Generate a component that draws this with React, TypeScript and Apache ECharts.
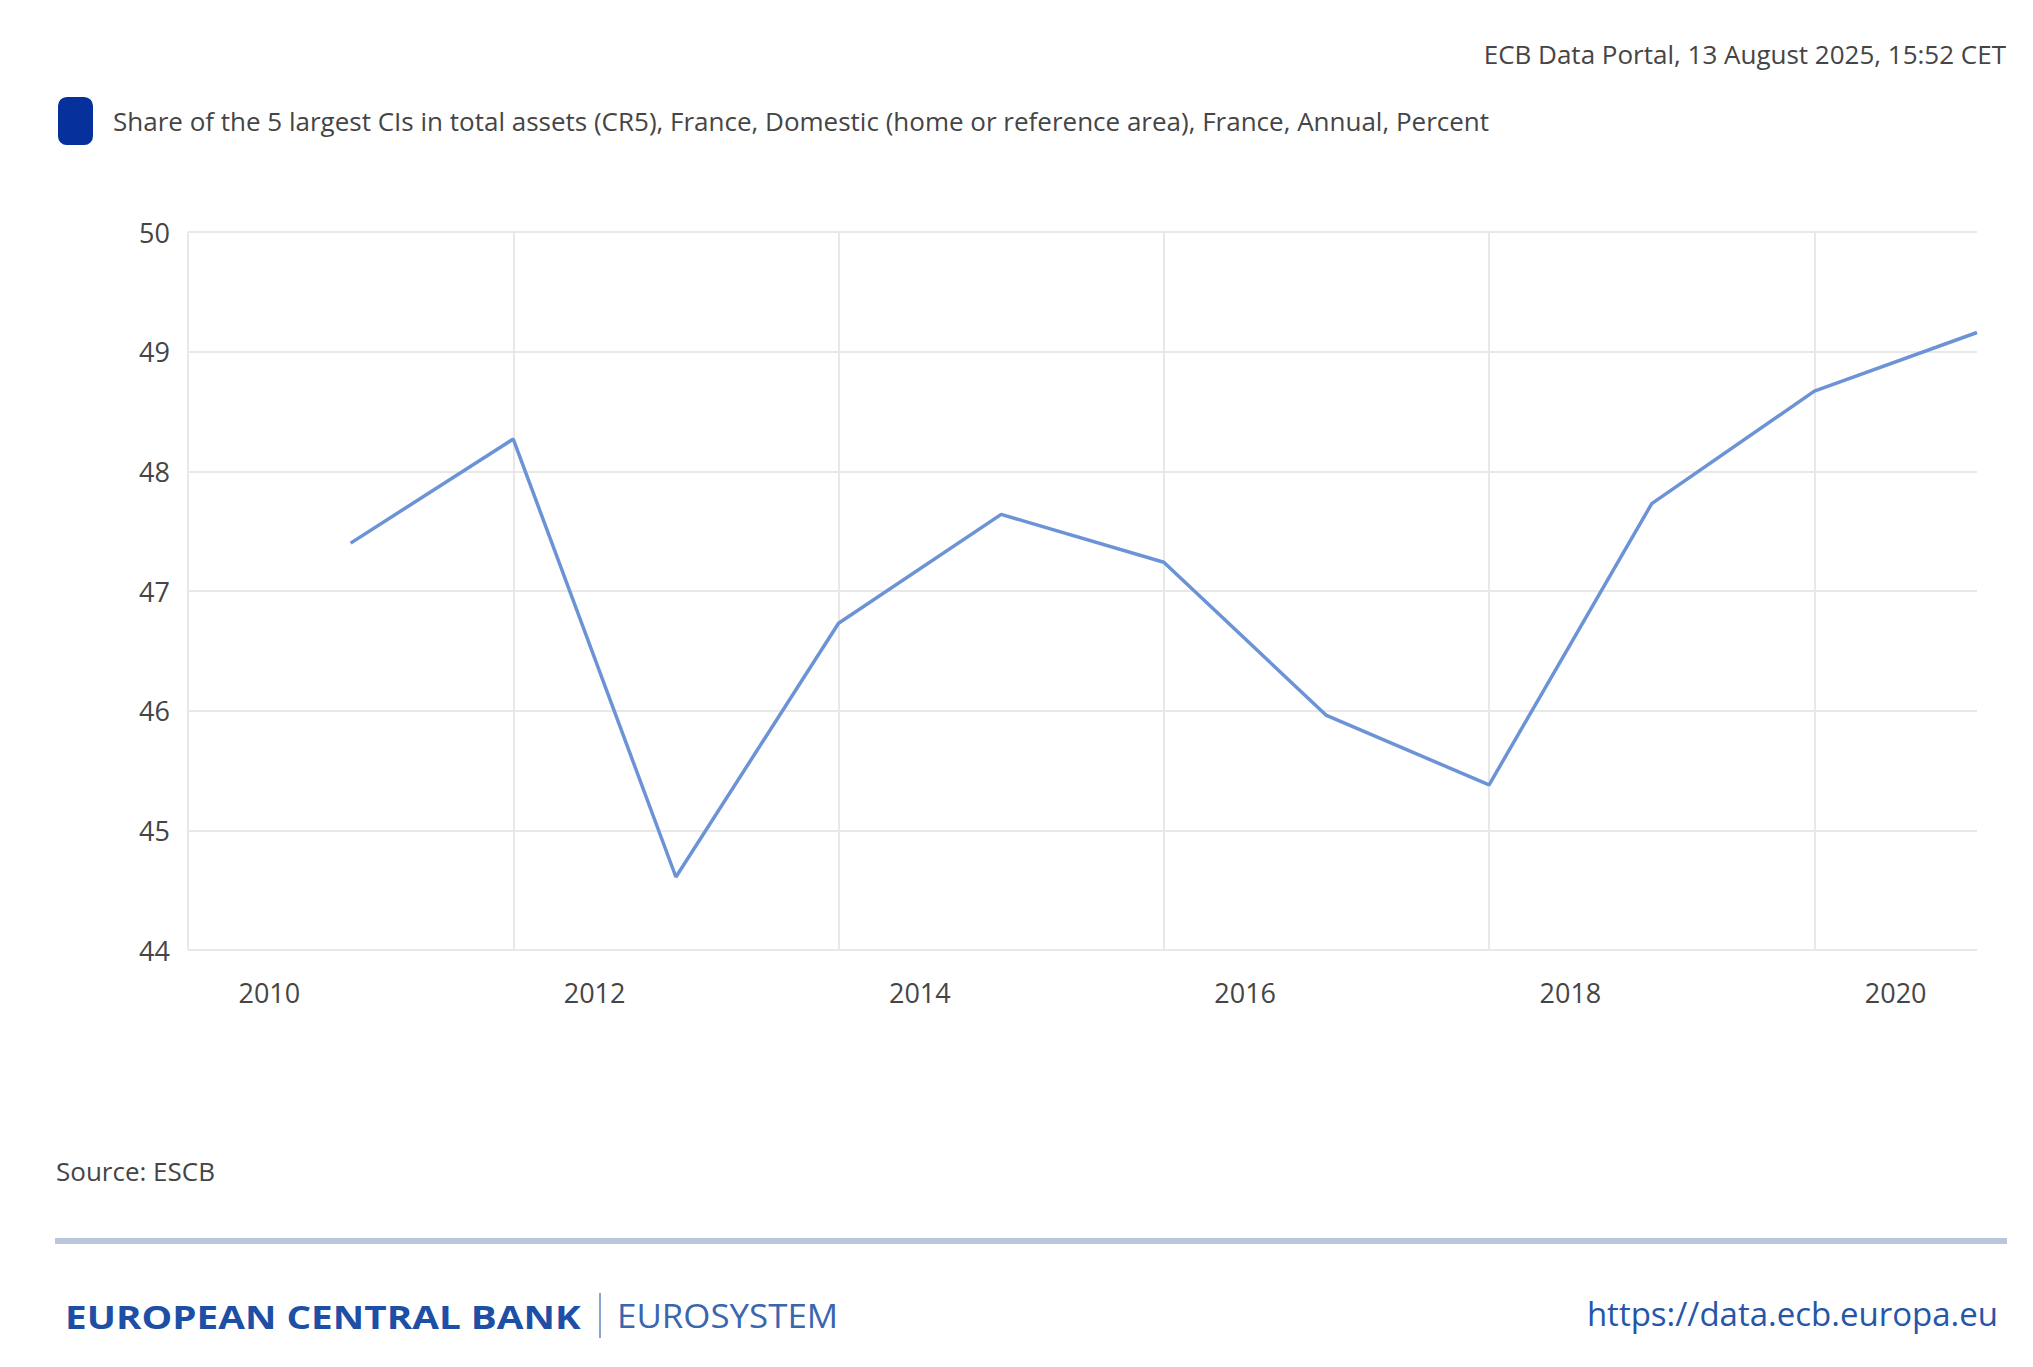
import React, { useEffect, useRef } from "react";
import * as echarts from "echarts";

const years = [2010, 2011, 2012, 2013, 2014, 2015, 2016, 2017, 2018, 2019, 2020];
const shares = [47.4, 48.27, 44.61, 46.73, 47.64, 47.24, 45.96, 45.38, 47.73, 48.67, 49.16];
const xLabelYears = [2010, 2012, 2014, 2016, 2018, 2020];
const seriesName =
  "Share of the 5 largest CIs in total assets (CR5), France, Domestic (home or reference area), France, Annual, Percent";
const stampText = "ECB Data Portal, 13 August 2025, 15:52 CET";
const sourceText = "Source: ESCB";
const bankText = "EUROPEAN CENTRAL BANK";
const systemText = "EUROSYSTEM";
const urlText = "https://data.ecb.europa.eu";

const FONT = "'Open Sans', 'Noto Sans', sans-serif";
const TEXT = "#454545";

export default function App() {
  const ref = useRef<HTMLDivElement>(null);
  useEffect(() => {
    if (!ref.current) return;
    const chart = echarts.init(ref.current, undefined, { renderer: "svg" });
    chart.setOption({
      animation: false,
      backgroundColor: "#ffffff",
      grid: { left: 188, top: 232, width: 1789, height: 718, containLabel: false },
      legend: {
        left: 58,
        top: 97,
        padding: 0,
        itemWidth: 35,
        itemHeight: 48,
        data: [{ name: seriesName, icon: "roundRect", itemStyle: { color: "#06319c" } }],
        textStyle: { color: TEXT, fontSize: 26, fontFamily: FONT, padding: [0, 0, 0, 15] },
        selectedMode: false,
      },
      xAxis: {
        type: "value",
        min: 2009.5,
        max: 2020.5,
        interval: 2,
        axisLine: { show: false },
        axisTick: { show: false },
        splitLine: { show: true, showMaxLine: false, lineStyle: { color: "#e8e8e8", width: 2 } },
        axisLabel: {
          customValues: xLabelYears,
          formatter: (v: number) => String(v),
          margin: 29,
          color: TEXT,
          fontSize: 27,
          fontFamily: FONT,
        },
      },
      yAxis: {
        type: "value",
        min: 44,
        max: 50,
        interval: 1,
        axisLine: { show: false },
        axisTick: { show: false },
        splitLine: { show: true, lineStyle: { color: "#e8e8e8", width: 2 } },
        axisLabel: { margin: 18, color: TEXT, fontSize: 27, fontFamily: FONT },
      },
      series: [
        {
          name: seriesName,
          type: "line",
          data: years.map((y, i) => [y + 0.5, shares[i]]),
          showSymbol: false,
          lineStyle: { color: "#6b93d6", width: 3.5 },
          itemStyle: { color: "#6b93d6" },
        },
      ],
      graphic: [
        {
          type: "text",
          x: 2006,
          y: 54,
          style: {
            text: stampText,
            fill: TEXT,
            fontSize: 26,
            fontFamily: FONT,
            textAlign: "right",
            textVerticalAlign: "middle",
          },
        },
        {
          type: "text",
          x: 56,
          y: 1171,
          style: {
            text: sourceText,
            fill: TEXT,
            fontSize: 26,
            fontFamily: FONT,
            textAlign: "left",
            textVerticalAlign: "middle",
          },
        },
        {
          type: "line",
          shape: { x1: 55, y1: 1241, x2: 2007, y2: 1241 },
          style: { stroke: "#b9c6dc", lineWidth: 6 },
        },
        {
          type: "text",
          x: 65,
          y: 1316,
          scaleX: 1.21,
          style: {
            text: bankText,
            fill: "#1d4fa6",
            fontSize: 32,
            fontWeight: "bold",
            fontFamily: FONT,
            textAlign: "left",
            textVerticalAlign: "middle",
          },
        },
        {
          type: "line",
          shape: { x1: 600, y1: 1293, x2: 600, y2: 1338 },
          style: { stroke: "#8aa3cc", lineWidth: 2 },
        },
        {
          type: "text",
          x: 617,
          y: 1316,
          scaleX: 1.09,
          style: {
            text: systemText,
            fill: "#3a66b0",
            fontSize: 32,
            fontFamily: FONT,
            textAlign: "left",
            textVerticalAlign: "middle",
          },
        },
        {
          type: "text",
          x: 1998,
          y: 1313,
          style: {
            text: urlText,
            fill: "#2556a8",
            fontSize: 33,
            fontFamily: FONT,
            textAlign: "right",
            textVerticalAlign: "middle",
          },
        },
      ],
    });
    return () => chart.dispose();
  }, []);
  return (
    <div
      ref={ref}
      style={{ position: "fixed", left: 0, top: 0, width: 2033, height: 1367, background: "#fff" }}
    />
  );
}
